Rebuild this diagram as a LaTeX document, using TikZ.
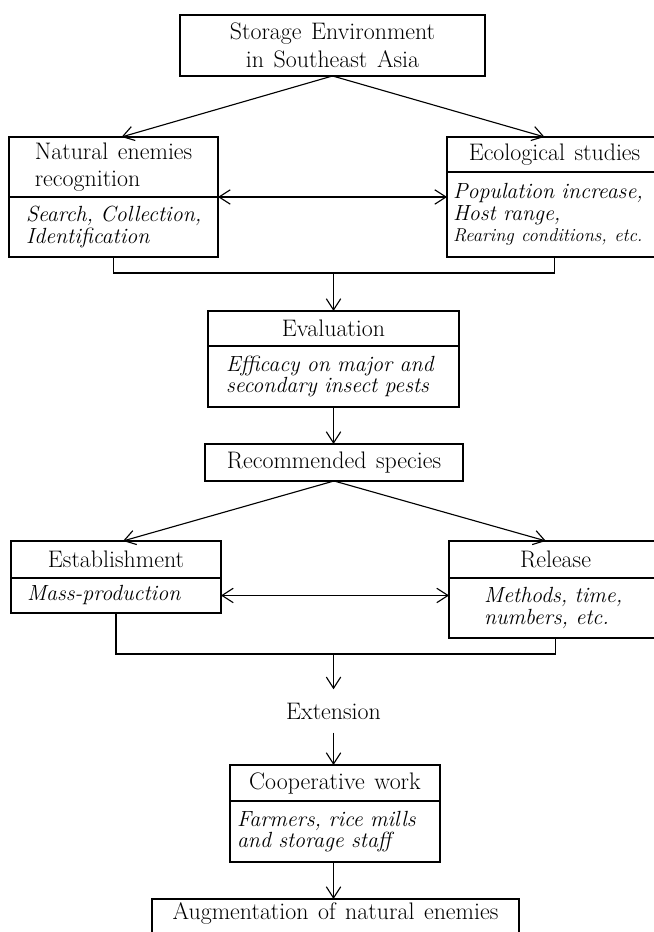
\documentclass[tikz,border=0pt]{standalone}
\usetikzlibrary{arrows.meta}
\newcommand\headsize{\fontsize{17}{19.5}\selectfont\spaceskip=6.8pt plus 1.5pt\relax}
\newcommand\bodysize{\fontsize{15.6}{15.2}\selectfont\itshape\spaceskip=6.4pt plus 1.5pt\relax}
\tikzset{
  box/.style={draw=black, line width=0.9pt, inner sep=0pt, outer sep=0pt},
  headfont/.style={font=\headsize},
  bodyfont/.style={font=\bodysize},
  boxhead/.style={box, headfont, align=center},
  boxbody/.style={box, bodyfont, align=left},
  link/.style={line width=0.8pt, draw=black},
  arrowlink/.style={link, -{Straight Barb[length=2.8mm,width=3.6mm]}},
  twoway/.style={link, {Straight Barb[length=2.8mm,width=3.6mm]}-{Straight Barb[length=2.8mm,width=3.6mm]}},
}

\begin{document}
\begin{tikzpicture}
\useasboundingbox (0,0) rectangle (16.35,23.3);
\node[boxhead, minimum width=7.625cm, minimum height=1.525cm] (env) at (8.313,22.163) {Storage Environment\\in Southeast Asia};
\node[boxhead, align=left, minimum width=5.225cm, minimum height=1.5cm] (nathead) at (2.838,19.125) {Natural enemies\\recognition};
\node[boxbody, text width=4.375cm, inner xsep=0.425cm, minimum height=1.5cm] (natbody) at (2.838,17.625) {Search, Collection,\\Identification};
\node[boxhead, minimum width=5.375cm, minimum height=0.875cm] (ecohead) at (13.863,19.438) {Ecological studies};
\node[boxbody, text width=5.075cm, inner xsep=0.15cm, minimum height=2.125cm] (ecobody) at (13.863,17.938) {Population increase,\\Host range,\\{\fontsize{13.2}{14}\selectfont Rearing conditions, etc.}};
\node[boxhead, minimum width=6.275cm, minimum height=0.875cm] (evalhead) at (8.338,15.088) {Evaluation};
\node[boxbody, text width=5.375cm, inner xsep=0.45cm, minimum height=1.525cm] (evalbody) at (8.338,13.888) {Efficacy on major and\\secondary insect pests};
\node[boxhead, minimum width=6.45cm, minimum height=0.925cm] (rec) at (8.350,11.738) {Recommended species};
\node[boxhead, minimum width=5.25cm, minimum height=0.925cm] (esthead) at (2.900,9.313) {Establishment};
\node[boxbody, text width=4.45cm, inner xsep=0.4cm, minimum height=0.875cm] (estbody) at (2.900,8.413) {Mass-production};
\node[boxhead, minimum width=5.325cm, minimum height=0.925cm] (relhead) at (13.888,9.313) {Release};
\node[boxbody, text width=3.575cm, inner xsep=0.875cm, minimum height=1.5cm] (relbody) at (13.888,8.100) {Methods, time,\\numbers, etc.};
\node[headfont, inner sep=0.33cm] (ext) at (8.338,5.525) {Extension};
\node[boxhead, minimum width=5.25cm, minimum height=0.9cm] (coophead) at (8.375,3.725) {Cooperative work};
\node[boxbody, text width=4.9cm, inner xsep=0.175cm, minimum height=1.525cm] (coopbody) at (8.375,2.513) {Farmers, rice mills\\and storage staff};
\node[boxhead, anchor=north, minimum width=9.175cm, inner ysep=0.1cm, text height=0.42cm, text depth=0.7cm] (aug) at (8.388,0.825) {Augmentation of natural enemies};
\coordinate (jtop) at (8.338,16.475);
\coordinate (jbot) at (8.338,6.950);
\draw[arrowlink] (env.south) -- ([xshift=0.2cm]nathead.north);
\draw[arrowlink] (env.south) -- ([xshift=-0.25cm]ecohead.north);
\draw[twoway] (natbody.north east) -- (natbody.north east -| ecobody.west);
\draw[link] (natbody.south) |- (jtop) -| (ecobody.south);
\draw[arrowlink] (jtop) -- (evalhead.north);
\draw[arrowlink] (evalbody.south) -- (evalbody.south |- rec.north);
\draw[arrowlink] (rec.south) -- ([xshift=0.175cm]esthead.north);
\draw[arrowlink] (rec.south) -- ([xshift=-0.24cm]relhead.north);
\draw[twoway] (estbody.east) -- (estbody.east -| relbody.west);
\draw[link] (estbody.south) |- (jbot) -| (relbody.south);
\draw[arrowlink] (jbot) -- (ext.north);
\draw[arrowlink] (ext.south) -- (ext.south |- coophead.north);
\draw[arrowlink] (ext.south |- coopbody.south) -- (ext.south |- aug.north);
\end{tikzpicture}
\end{document}
